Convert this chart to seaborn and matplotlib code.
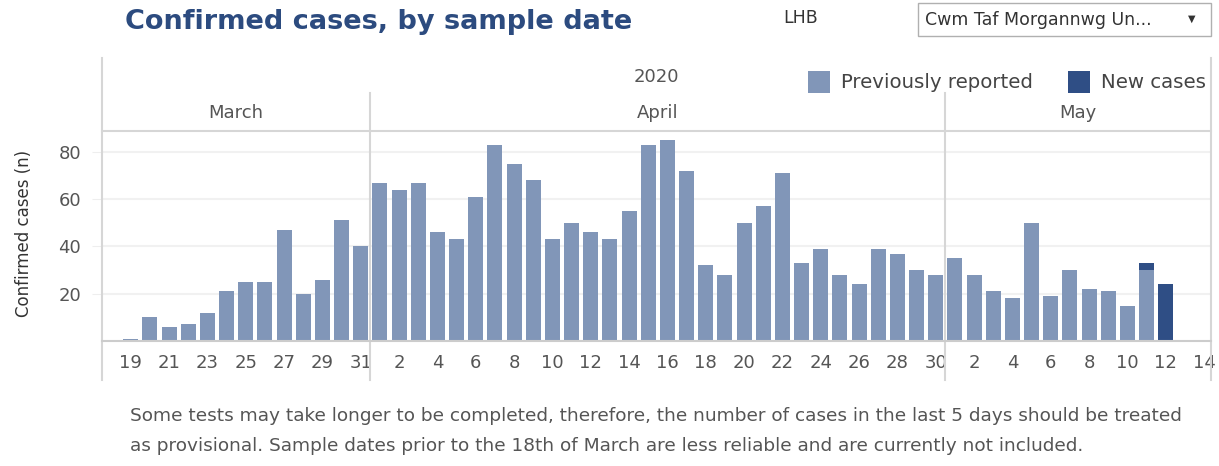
import matplotlib
matplotlib.use("Agg")
import matplotlib.pyplot as plt
from matplotlib.patches import Rectangle
from matplotlib.transforms import blended_transform_factory
import seaborn as sns
import pandas as pd

# daily confirmed cases, 19 March - 12 May 2020
march_prev = [1, 10, 6, 7, 12, 21, 25, 25, 47, 20, 26, 51, 40]
april_prev = [67, 64, 67, 46, 43, 61, 83, 75, 68, 43, 50, 46, 43, 55, 83,
              85, 72, 32, 28, 50, 57, 71, 33, 39, 28, 24, 39, 37, 30, 28]
may_prev = [35, 28, 21, 18, 50, 19, 30, 22, 21, 15, 30, 0]
may_new = [0, 0, 0, 0, 0, 0, 0, 0, 0, 0, 3, 24]

month_names = ["March", "April", "May"]
footnote = ["Some tests may take longer to be completed, therefore, the number of cases in the last 5 days should be treated",
            "as provisional. Sample dates prior to the 18th of March are less reliable and are currently not included."]

PREV_COL = "#8196b8"
NEW_COL = "#2f4e85"
GREY = "#555555"
LINE = "#d6d6d6"

W, H = 1219, 466

def fx(x):
    return x / W

def fy(y):
    return 1 - y / H

# full axis runs 18 March - 14 May, bars start on the 19th
days = pd.date_range("2020-03-18", "2020-05-14")
prev = march_prev + april_prev + may_prev
new = [0] * (len(march_prev) + len(april_prev)) + may_new
df = pd.DataFrame({"date": days[1:1 + len(prev)], "prev": prev, "new": new})
df["total"] = df["prev"] + df["new"]
df["key"] = df["date"].dt.strftime("%m-%d")
order = list(days.strftime("%m-%d"))

fig = plt.figure(figsize=(W / 100, H / 100), dpi=100)
ax = fig.add_axes([fx(102), fy(341), fx(1211) - fx(102), fy(131) - fy(341)])

sns.barplot(data=df, x="key", y="total", order=order, color=NEW_COL,
            saturation=1, width=0.78, linewidth=0, ax=ax)
sns.barplot(data=df, x="key", y="prev", order=order, color=PREV_COL,
            saturation=1, width=0.78, linewidth=0, ax=ax)

ax.set_xlim(-0.5, 57.36)
ax.set_ylim(0, 88.8)
ax.set_yticks([20, 40, 60, 80])
ax.yaxis.grid(True, color="#f1f1f1", linewidth=1.5)
ax.set_axisbelow(True)
ax.tick_params(axis="y", length=7, color="#eeeeee", labelsize=13, labelcolor=GREY, pad=8)

tick_idx = list(range(1, len(days), 2))
ax.set_xticks(tick_idx)
ax.set_xticklabels([str(days[i].day) for i in tick_idx])
ax.tick_params(axis="x", length=0, labelsize=13, labelcolor=GREY, pad=9)
ax.set_xlabel("")
ax.set_ylabel("")

for s in ["left", "right"]:
    ax.spines[s].set_visible(False)
ax.spines["bottom"].set_color("#cccccc")
ax.spines["bottom"].set_linewidth(1.5)
ax.spines["top"].set_color(LINE)
ax.spines["top"].set_linewidth(1.5)

# pane / header lines, x in data units, y in figure units
tr = blended_transform_factory(ax.transData, fig.transFigure)
xmin, xmax = ax.get_xlim()
for xv in [xmin, xmax]:
    ax.plot([xv, xv], [fy(58), fy(380)], color=LINE, lw=1.5, transform=tr, clip_on=False)
month_starts = [0]
for i in range(1, len(days)):
    if days[i].month != days[i - 1].month:
        month_starts.append(i)
for i in month_starts[1:]:
    ax.plot([i - 0.5, i - 0.5], [fy(93), fy(380)], color=LINE, lw=1.5, transform=tr, clip_on=False)

bounds = [xmin] + [i - 0.5 for i in month_starts[1:]] + [xmax]
for k, name in enumerate(month_names):
    ax.text((bounds[k] + bounds[k + 1]) / 2, fy(113), name, transform=tr,
            ha="center", va="center", fontsize=13, color=GREY)
ax.text((xmin + xmax) / 2, fy(77), "2020", transform=tr, ha="center", va="center",
        fontsize=13, color=GREY)

# y label
fig.text(fx(24), fy(233), "Confirmed cases (n)", rotation=90, ha="center", va="center",
         fontsize=12, color="#333333")

# title and filter
fig.text(fx(125), fy(22), "Confirmed cases, by sample date", ha="left", va="center",
         fontsize=19.5, fontweight="bold", color="#2c4b7f")
fig.text(fx(783), fy(18), "LHB", ha="left", va="center", fontsize=12.5, color="#333333")
fig.add_artist(Rectangle((fx(918), fy(36)), fx(1211) - fx(918), fy(3) - fy(36),
                         transform=fig.transFigure, facecolor="white", edgecolor="#b0b0b0", lw=1))
fig.text(fx(925), fy(20), "Cwm Taf Morgannwg Un...", ha="left", va="center",
         fontsize=12.5, color="#333333")
fig.text(fx(1192), fy(19), "▼", ha="center", va="center", fontsize=7, color="#333333")

# legend
for x0, col, lab in [(808, PREV_COL, "Previously reported"), (1068, NEW_COL, "New cases")]:
    fig.add_artist(Rectangle((fx(x0), fy(93)), fx(22), 22 / H, transform=fig.transFigure,
                             facecolor=col, edgecolor="none"))
    fig.text(fx(x0 + 33), fy(82), lab, ha="left", va="center", fontsize=14.2, color="#444444")

# footnote
for k, line in enumerate(footnote):
    fig.text(fx(130), fy(416 + 30 * k), line, ha="left", va="center", fontsize=13.3, color=GREY)

fig.savefig("out.png", dpi=100)
